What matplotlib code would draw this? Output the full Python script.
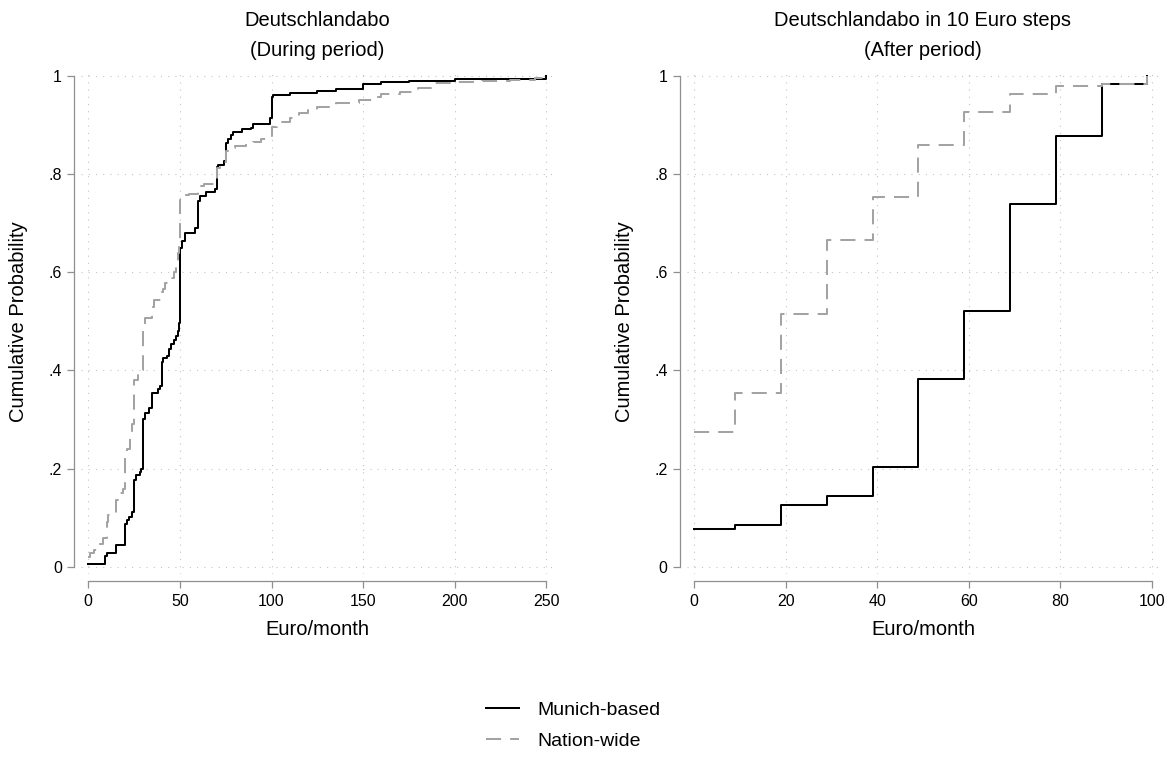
import matplotlib
matplotlib.use("Agg")
import matplotlib.pyplot as plt

plt.rcParams['font.family'] = ['Liberation Sans', 'DejaVu Sans']

# ---------------- data ----------------
# Left panel: ECDF of willingness to pay (During period)
munich_during_x = [0, 9, 10, 15, 20, 21, 22, 24, 25, 26, 28, 29, 30, 31, 33, 35, 38, 39,
                   40, 41, 43, 44, 45, 47, 48, 49, 49.5, 50, 51, 53, 58, 60, 61, 64, 69,
                   70, 71, 74, 75, 76, 78, 79, 84, 89, 90, 99, 100, 101, 110, 125, 135,
                   150, 160, 175, 200, 250]
munich_during_p = [0.005, 0.022, 0.027, 0.044, 0.088, 0.095, 0.102, 0.112, 0.176, 0.186,
                   0.192, 0.200, 0.302, 0.314, 0.324, 0.354, 0.362, 0.369, 0.417, 0.425,
                   0.430, 0.444, 0.454, 0.463, 0.470, 0.480, 0.496, 0.650, 0.664, 0.681,
                   0.690, 0.746, 0.756, 0.764, 0.770, 0.815, 0.819, 0.826, 0.863, 0.872,
                   0.880, 0.886, 0.891, 0.895, 0.902, 0.915, 0.958, 0.962, 0.965, 0.970,
                   0.974, 0.984, 0.987, 0.990, 0.994, 1.000]

nation_during_x = [0, 1, 3, 6, 8, 10, 11, 15, 17, 19, 20, 21, 23, 24, 25, 27, 29, 30, 31,
                   35, 36, 40, 41, 42, 45, 47, 48, 49, 49.5, 50, 51, 55, 60, 63, 69, 70,
                   72, 75, 77, 80, 86, 90, 94, 98, 100, 103, 110, 115, 120, 125, 135, 148,
                   155, 160, 170, 180, 187, 200, 215, 230, 244, 250]
nation_during_p = [0.020, 0.028, 0.035, 0.047, 0.058, 0.092, 0.105, 0.136, 0.150, 0.158,
                   0.228, 0.240, 0.262, 0.290, 0.380, 0.393, 0.400, 0.490, 0.506, 0.530,
                   0.543, 0.560, 0.566, 0.578, 0.588, 0.600, 0.615, 0.640, 0.660, 0.747,
                   0.757, 0.760, 0.775, 0.779, 0.785, 0.813, 0.825, 0.848, 0.854, 0.857,
                   0.863, 0.866, 0.872, 0.878, 0.897, 0.907, 0.915, 0.924, 0.930, 0.937,
                   0.944, 0.951, 0.958, 0.964, 0.967, 0.975, 0.985, 0.988, 0.990, 0.992,
                   0.995, 1.000]

# Right panel: 10 Euro steps (After period)
steps_x = [0, 9, 19, 29, 39, 49, 59, 69, 79, 89, 99]
munich_after_p = [0.077, 0.084, 0.126, 0.145, 0.204, 0.382, 0.522, 0.739, 0.878, 0.984, 1.000]
nation_after_p = [0.274, 0.355, 0.515, 0.666, 0.754, 0.859, 0.927, 0.963, 0.980, 0.984, 1.000]

left_xticks = [0, 50, 100, 150, 200, 250]
right_xticks = [0, 20, 40, 60, 80, 100]
yticks = [0, 0.2, 0.4, 0.6, 0.8, 1.0]
ytick_labels = ['0', '.2', '.4', '.6', '.8', '1']

titles = [("Deutschlandabo", "(During period)"),
          ("Deutschlandabo in 10 Euro steps", "(After period)")]
series_labels = ["Munich-based", "Nation-wide"]

# ---------------- style ----------------
W, H = 1172, 757
fig = plt.figure(figsize=(W / 100, H / 100), dpi=100)

axis_col = '#8f8f8f'
grid_col = '#c4c4c4'
gray_line = '#a3a3a3'
lw = 1.45
dash = (0, (7.5, 4.5))

ax_w = 473 / W
ax_b = (H - 573.7) / H
ax_h = (573.7 - 69) / H
axL = fig.add_axes([80.8 / W, ax_b, ax_w, ax_h])
axR = fig.add_axes([686.5 / W, ax_b, ax_w, ax_h])


def style(ax, xmax, xticks, title):
    mx = 7.5 / (458.0 / xmax)
    ax.set_xlim(-mx, xmax + mx)
    my = 7.0 / 490.7
    ax.set_ylim(-my, 1 + my)
    for s in ['top', 'right']:
        ax.spines[s].set_visible(False)
    ax.spines['left'].set_position(('outward', 4.85))
    ax.spines['bottom'].set_position(('outward', 5.05))
    ax.spines['left'].set_bounds(0, 1)
    ax.spines['bottom'].set_bounds(0, xmax)
    for s in ['left', 'bottom']:
        ax.spines[s].set_color(axis_col)
        ax.spines[s].set_linewidth(0.9)
    ax.set_xticks(xticks)
    ax.set_xticklabels([str(t) for t in xticks])
    ax.set_yticks(yticks)
    ax.set_yticklabels(ytick_labels)
    ax.tick_params(axis='both', direction='out', length=5.2, width=0.9,
                   color=axis_col, labelsize=11.5, labelcolor='black')
    ax.tick_params(axis='x', pad=4.2)
    ax.tick_params(axis='y', pad=3.6)
    ax.grid(True, color=grid_col, linestyle=(0, (1, 5.5)), linewidth=0.8)
    ax.set_axisbelow(True)
    ax.set_xlabel("Euro/month", fontsize=14.5, va='center')
    ax.xaxis.set_label_coords(0.5, -0.1096)
    ax.set_ylabel("Cumulative Probability", fontsize=14.5, va='center')
    ax.yaxis.set_label_coords(-0.1307, 0.5)
    ax.text(0.5, 1.0852, title[0], transform=ax.transAxes, ha='center',
            va='baseline', fontsize=14.5)
    ax.text(0.5, 1.0258, title[1], transform=ax.transAxes, ha='center',
            va='baseline', fontsize=14.5)


style(axL, 250, left_xticks, titles[0])
style(axR, 100, right_xticks, titles[1])

axL.plot(munich_during_x, munich_during_p, drawstyle='steps-post', color='black', lw=lw)
axL.plot(nation_during_x, nation_during_p, drawstyle='steps-post', color=gray_line,
         lw=lw, linestyle=dash)

axR.plot(steps_x, munich_after_p, drawstyle='steps-post', color='black', lw=lw)
axR.plot(steps_x, nation_after_p, drawstyle='steps-post', color=gray_line,
         lw=lw, linestyle=dash)

h1, = axL.plot([], [], color='black', lw=lw)
h2, = axL.plot([], [], color=gray_line, lw=lw, linestyle=dash)
fig.legend([h1, h2], series_labels, loc='center', bbox_to_anchor=(573 / W, (H - 725.7) / H),
           frameon=False, fontsize=14, handlelength=1.71, handletextpad=0.95,
           labelspacing=0.66, borderpad=0)

fig.savefig("out.png", dpi=100)
